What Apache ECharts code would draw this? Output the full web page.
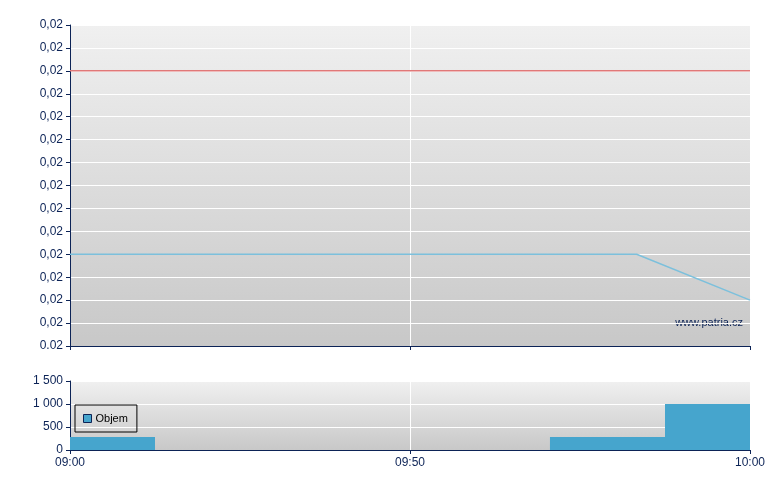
<!DOCTYPE html>
<html><head><meta charset="utf-8">
<script src="https://cdn.jsdelivr.net/npm/echarts@6/dist/echarts.min.js"></script>
<style>html,body{margin:0;padding:0;background:#fff}#c{width:780px;height:490px}</style>
</head><body><div id="c"></div>
<script>
// x in minutes from 09:00 (axis positions)
const xTickLabels = ['09:00', '09:50', '10:00'];
const priceLine = [[0, 0.0204], [50, 0.0204], [60, 0.0202]];
const refLine = [[0, 0.0212], [60, 0.0212]];
const volStart = [0, 42.35, 52.5];
const volEnd = [7.5, 52.5, 60];
const volValue = [280, 280, 1000];

const navy = '#0c2356';
const font = '"Liberation Sans", Arial, sans-serif';
const bg = {type:'linear', x:0, y:0, x2:0, y2:1, colorStops:[{offset:0,color:'#f0f0f0'},{offset:1,color:'#c8c8c8'}]};

const volData = volStart.map((s, i) => [s, volEnd[i], volValue[i]]);

const chart = echarts.init(document.getElementById('c'));
chart.setOption({
  animation: false,
  textStyle: {fontFamily: font},
  grid: [
    {left: 70, top: 25, width: 680, height: 321, show: true, backgroundColor: bg, borderWidth: 0},
    {left: 70, top: 381, width: 680, height: 69, show: true, backgroundColor: bg, borderWidth: 0}
  ],
  xAxis: [
    {gridIndex: 0, type: 'value', min: 0, max: 60, interval: 30,
     axisLine: {lineStyle: {color: navy, width: 1}}, axisTick: {show: true, length: 4, lineStyle: {color: navy}},
     axisLabel: {show: false}, splitLine: {show: true, lineStyle: {color: '#ffffff', width: 1}}},
    {gridIndex: 1, type: 'value', min: 0, max: 60, interval: 30,
     axisLine: {lineStyle: {color: navy, width: 1}}, axisTick: {show: true, length: 4, lineStyle: {color: navy}},
     axisLabel: {show: true, color: navy, fontSize: 12, fontFamily: font, margin: 7,
       formatter: v => xTickLabels[Math.round(v / 30)]},
     splitLine: {show: true, lineStyle: {color: '#ffffff', width: 1}}}
  ],
  yAxis: [
    {gridIndex: 0, type: 'value', min: 0.0200, max: 0.0214, interval: 0.0001,
     axisLine: {show: true, lineStyle: {color: navy, width: 1}}, axisTick: {show: true, length: 4, lineStyle: {color: navy}},
     axisLabel: {color: navy, fontSize: 12, fontFamily: font, margin: 7,
       formatter: v => Math.abs(v - 0.02) < 1e-9 ? '0.02' : v.toFixed(2).replace('.', ',')},
     splitLine: {show: true, lineStyle: {color: '#ffffff', width: 1}}},
    {gridIndex: 1, type: 'value', min: 0, max: 1500, interval: 500,
     axisLine: {show: true, lineStyle: {color: navy, width: 1}}, axisTick: {show: true, length: 4, lineStyle: {color: navy}},
     axisLabel: {color: navy, fontSize: 12, fontFamily: font, margin: 7,
       formatter: v => String(v).replace(/\B(?=(\d{3})+(?!\d))/g, ' ')},
     splitLine: {show: true, lineStyle: {color: '#ffffff', width: 1}}}
  ],
  legend: {
    left: 75, top: 405, orient: 'horizontal', padding: [8, 9, 8, 8],
    borderColor: '#000', borderWidth: 1, backgroundColor: 'transparent',
    itemWidth: 8, itemHeight: 8, itemGap: 4,
    textStyle: {color: '#000', fontSize: 11, fontFamily: font, padding: [0, 0, 0, -1]},
    data: [{name: 'Objem', icon: 'rect', itemStyle: {color: '#46a5cd', borderColor: '#0c2356', borderWidth: 1}}]
  },
  graphic: [{type: 'text', right: 37, top: 317, style: {text: 'www.patria.cz', fill: navy, font: '11px ' + font}}],
  series: [
    {type: 'line', xAxisIndex: 0, yAxisIndex: 0, data: refLine, symbol: 'none',
     lineStyle: {color: '#e07878', width: 1.5}, z: 3},
    {type: 'line', xAxisIndex: 0, yAxisIndex: 0, data: priceLine, symbol: 'none',
     lineStyle: {color: '#7cc0dc', width: 1.5}, z: 3},
    {type: 'custom', name: 'Objem', xAxisIndex: 1, yAxisIndex: 1, data: volData,
     encode: {x: [0, 1], y: 2},
     renderItem: function (params, api) {
       const p0 = api.coord([api.value(0), api.value(2)]);
       const p1 = api.coord([api.value(1), 0]);
       return {type: 'rect', shape: {x: p0[0], y: p0[1], width: p1[0] - p0[0], height: p1[1] - p0[1]},
               style: {fill: '#46a5cd'}};
     }, z: 3}
  ]
});
</script></body></html>
